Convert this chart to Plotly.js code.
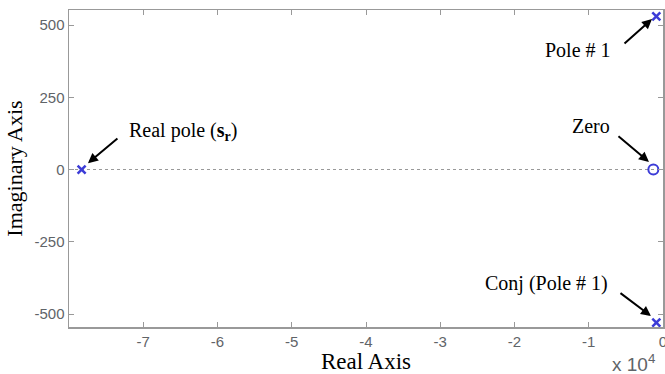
<!DOCTYPE html>
<html>
<head>
<meta charset="utf-8">
<script src="https://cdn.plot.ly/plotly-3.0.1.min.js"></script>
<style>html,body{margin:0;padding:0;background:#fff;}#chart{width:665px;height:374px;}</style>
</head>
<body>
<div id="chart"></div>
<script>
// Pole / zero locations (real part, imaginary part)
const polesRe = [-78300, -900, -900];
const polesIm = [0, 530, -530];
const zerosRe = [-1300];
const zerosIm = [0];
// axis ticks
const xTickVals = [-70000, -60000, -50000, -40000, -30000, -20000, -10000, 0];
const xTickText = ['-7', '-6', '-5', '-4', '-3', '-2', '-1', '0'];
const yTickVals = [-500, -250, 0, 250, 500];
const yTickText = ['-500', '-250', '0', '250', '500'];

const blue = 'rgb(60,60,215)';
const grey = '#999999';
const tickFont = {family: 'Liberation Sans, Arial, sans-serif', size: 15, color: '#5f6468'};
const serif = 'Liberation Serif, Times New Roman, serif';

const traces = [
  {x: polesRe, y: polesIm, type: 'scatter', mode: 'markers',
   marker: {symbol: 'x-thin', size: 8, color: blue, line: {color: blue, width: 2.5}},
   hoverinfo: 'skip', showlegend: false},
  {x: zerosRe, y: zerosIm, type: 'scatter', mode: 'markers',
   marker: {symbol: 'circle-open', size: 10, color: blue, line: {color: blue, width: 2}},
   hoverinfo: 'skip', showlegend: false}
];

const annFont = {family: serif, size: 20, color: '#000'};
const arrow = (x, y, ax, ay) => ({x, y, ax, ay, xref: 'x', yref: 'y', text: '', showarrow: true,
  arrowhead: 2, arrowsize: 1, arrowwidth: 2, arrowcolor: '#000'});

const layout = {
  width: 665, height: 374,
  margin: {l: 69, r: 2, t: 10, b: 47},
  paper_bgcolor: '#fff', plot_bgcolor: '#fff',
  xaxis: {
    range: [-80000, 0], tickvals: xTickVals, ticktext: xTickText,
    showgrid: false, zeroline: false, showline: true, linecolor: grey, linewidth: 1.5,
    mirror: 'ticks', ticks: 'inside', ticklen: 5, tickcolor: grey, tickwidth: 1,
    tickfont: tickFont, ticklabelstandoff: 0, ticklabeloverflow: 'allow',
    title: {text: 'Real Axis', font: {family: serif, size: 23, color: '#000'}, standoff: 7}
  },
  yaxis: {
    range: [-545, 552], tickvals: yTickVals, ticktext: yTickText,
    showgrid: false, zeroline: false, showline: true, linecolor: grey, linewidth: 1.5,
    mirror: 'ticks', ticks: 'inside', ticklen: 5, tickcolor: grey, tickwidth: 1,
    tickfont: tickFont,
    title: {text: 'Imaginary Axis', font: {family: serif, size: 22, color: '#000'}, standoff: 6}
  },
  shapes: [
    {type: 'line', xref: 'paper', x0: 0, x1: 1, yref: 'y', y0: 0, y1: 0,
     line: {color: '#999999', width: 1, dash: 'dot'}, layer: 'below'}
  ],
  annotations: [
    {x: -72200, y: 133, xref: 'x', yref: 'y', xanchor: 'left', yanchor: 'middle', showarrow: false,
     text: 'Real pole (<b>s</b><sub><b>r</b></sub>)', font: annFont},
    {x: -6735, y: 413, xref: 'x', yref: 'y', xanchor: 'right', yanchor: 'middle', showarrow: false,
     text: 'Pole # 1', font: annFont},
    {x: -6870, y: 150, xref: 'x', yref: 'y', xanchor: 'right', yanchor: 'middle', showarrow: false,
     text: 'Zero', font: annFont},
    {x: -7140, y: -393, xref: 'x', yref: 'y', xanchor: 'right', yanchor: 'middle', showarrow: false,
     text: 'Conj (Pole # 1)', font: annFont},
    arrow(-77450, 22, 31, -26),
    arrow(-1480, 521, -29, 26),
    arrow(-1890, 26, -32, -27),
    arrow(-1620, -507, -32, -24),
    {x: 0.911, y: -0.114, xref: 'paper', yref: 'paper', xanchor: 'left', yanchor: 'middle', showarrow: false,
     text: 'x 10<sup>4</sup>', font: {family: 'Liberation Sans, Arial, sans-serif', size: 19, color: '#5f6468'}}
  ]
};

Plotly.newPlot('chart', traces, layout, {displayModeBar: false, staticPlot: true});
</script>
</body>
</html>
